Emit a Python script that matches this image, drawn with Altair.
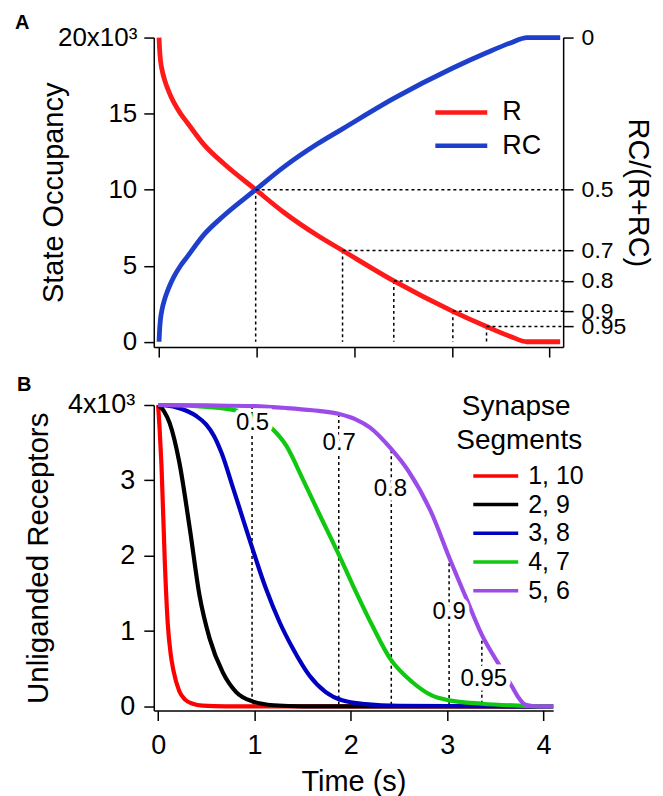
import altair as alt
import pandas as pd

FONT = "Liberation Sans"

# ---------------- Panel A data ----------------
r_t = [0, 0.005, 0.015, 0.03, 0.06, 0.10, 0.15, 0.22, 0.29, 0.46, 0.665, 0.99, 1.28, 1.62, 1.88, 2.405, 3.01, 3.355, 3.6, 3.77, 4.11]
r_v = [20000, 19300, 18500, 17900, 17150, 16450, 15750, 15000, 14400, 12960, 11700, 10000, 8500, 7000, 6000, 4000, 2000, 1000, 350, 0, 0]
rc_t = [0, 0.005, 0.015, 0.03, 0.06, 0.10, 0.15, 0.22, 0.29, 0.46, 0.665, 0.99, 1.28, 1.62, 1.88, 2.405, 3.01, 3.355, 3.6, 3.77, 4.11]
rc_v = [0, 700, 1500, 2100, 2850, 3550, 4250, 5000, 5600, 7040, 8300, 10000, 11500, 13000, 14000, 16000, 18000, 19000, 19650, 20000, 20000]
cross_t = [0.99, 1.88, 2.405, 3.01, 3.355]
cross_v = [10000, 6000, 4000, 2000, 1000]
cross_frac = [0.5, 0.7, 0.8, 0.9, 0.95]
left_ticks_A = [0, 5000, 10000, 15000, 20000]
right_ticks_A = [0, 0.5, 0.7, 0.8, 0.9, 0.95]
time_ticks = [0, 1, 2, 3, 4]
states = ["R", "RC"]
state_colors = ["#ff1a1a", "#1e3fcc"]

# ---------------- Panel B data ----------------
seg_names = ["1, 10", "2, 9", "3, 8", "4, 7", "5, 6"]
seg_colors = ["#ff0000", "#000000", "#0000c0", "#11c811", "#9b4be8"]
s1_t = [0, 0.015, 0.035, 0.07, 0.10, 0.13, 0.16, 0.22, 0.28, 0.36, 0.46, 0.7, 4.1]
s1_v = [4000, 3700, 3200, 1900, 1100, 700, 470, 200, 90, 35, 10, 0, 0]
s2_t = [0, 0.06, 0.12, 0.22, 0.33, 0.43, 0.535, 0.67, 0.81, 0.98, 1.2, 1.5, 4.1]
s2_v = [4000, 3920, 3760, 3240, 2350, 1470, 900, 455, 190, 66, 15, 0, 0]
s3_t = [0, 0.1, 0.2, 0.3, 0.4, 0.5, 0.58, 0.66, 0.78, 0.88, 0.98, 1.12, 1.26, 1.40, 1.57, 1.74, 1.91, 2.15, 2.5, 4.1]
s3_v = [4000, 3990, 3965, 3920, 3850, 3740, 3590, 3360, 2890, 2490, 2090, 1560, 1120, 765, 410, 190, 80, 30, 8, 0]
s4_t = [0, 0.4, 0.78, 1.155, 1.33, 1.5, 1.67, 1.81, 1.88, 2.02, 2.22, 2.41, 2.64, 2.84, 3.02, 3.36, 3.74, 4.1]
s4_v = [4000, 3985, 3935, 3720, 3460, 3020, 2560, 2190, 2000, 1610, 1080, 630, 320, 145, 80, 35, 10, 0]
s5_t = [0, 0.5, 1.0, 1.33, 1.6, 1.88, 2.05, 2.2, 2.41, 2.6, 2.84, 3.02, 3.19, 3.36, 3.53, 3.67, 3.75, 3.8, 3.88, 3.95, 4.1]
s5_v = [4000, 3995, 3985, 3960, 3930, 3880, 3810, 3700, 3430, 3120, 2560, 1980, 1460, 950, 570, 270, 100, 30, 5, 0, 0]
b_cross_t = [0.975, 1.875, 2.42, 3.02, 3.36]
b_cross_top = [3985, 3880, 3400, 1980, 950]
b_labels = ["0.5", "0.7", "0.8", "0.9", "0.95"]
b_label_t = [0.98, 1.88, 2.41, 3.02, 3.38]
b_label_v = [3757, 3500, 2883, 1249, 367]
left_ticks_B = [0, 1000, 2000, 3000, 4000]
legend_title_B = ["Synapse", "Segments"]

# ---------------- Panel A ----------------
dfA = pd.DataFrame({
    "t": r_t + rc_t,
    "v": r_v + rc_v,
    "state": ["R"] * len(r_t) + ["RC"] * len(rc_t),
})
vrA = pd.DataFrame({"t": cross_t, "v": cross_v})
hrA = pd.DataFrame({"t": cross_t, "f": cross_frac})
legA = pd.DataFrame({"state": states, "i": list(range(len(states)))})

WA, HA = 410, 310

def xA():
    return alt.X("t:Q", scale=alt.Scale(domain=[-0.054, 4.14], nice=False, zero=False),
                 axis=alt.Axis(values=time_ticks, labels=False, title=None))

axisYA = alt.Axis(values=left_ticks_A, title="State Occupancy", titleX=-85,
                  labelExpr="datum.value == 20000 ? '20x10³' : format(datum.value / 1000, 'd')",
                  labelFontSize=26, labelPadding=7, titleFontSize=29)

def yA():
    return alt.Y("v:Q", scale=alt.Scale(domain=[-350, 20000], nice=False, zero=False), axis=axisYA)

colorA = alt.Color("state:N", scale=alt.Scale(domain=states, range=state_colors), legend=None)

vruleA = alt.Chart(vrA).mark_rule(color="black", strokeWidth=1.5, strokeDash=[3, 3]).encode(
    x=xA(), y=yA(), y2=alt.datum(0))

linesA = alt.Chart(dfA).mark_line(strokeWidth=4.8, interpolate="monotone").encode(
    x=xA(), y=yA(), color=colorA)

legSymA = alt.Chart(legA).transform_calculate(py="75 + datum.i * 33.3").mark_rule(strokeWidth=4.5).encode(
    x=alt.value(282), x2=alt.value(334), y=alt.Y("py:Q", scale=None), color=colorA)
legTxtA = alt.Chart(legA).transform_calculate(py="75 + datum.i * 33.3").mark_text(
    font=FONT, fontSize=27, color="black", align="left", baseline="middle").encode(
    x=alt.value(349), y=alt.Y("py:Q", scale=None), text="state:N")

letterA = alt.Chart(pd.DataFrame({"label": ["A"]})).mark_text(
    font=FONT, fontSize=20, fontWeight="bold", align="left", baseline="top", color="black").encode(
    text="label:N", x=alt.value(-139), y=alt.value(-25))

hruleA = alt.Chart(hrA).mark_rule(color="black", strokeWidth=1.5, strokeDash=[3, 3]).encode(
    x=xA(), x2=alt.value(WA),
    y=alt.Y("f:Q", scale=alt.Scale(domain=[0, 1.0175], reverse=True, nice=False, zero=False),
            axis=alt.Axis(orient="right", values=right_ticks_A, title="RC/(R+RC)", titleX=59,
                          labelExpr="toString(datum.value)",
                          labelFontSize=23, labelPadding=8, titleFontSize=29)))

top = alt.layer(alt.layer(vruleA, linesA, legSymA, legTxtA, letterA), hruleA).resolve_scale(
    y="independent").properties(width=WA, height=HA)

# ---------------- Panel B ----------------
seg_t = [s1_t, s2_t, s3_t, s4_t, s5_t]
seg_v = [s1_v, s2_v, s3_v, s4_v, s5_v]
rows = []
for name, ts, vs in zip(seg_names, seg_t, seg_v):
    for t, v in zip(ts, vs):
        rows.append({"t": t, "v": v, "seg": name})
dfB = pd.DataFrame(rows)
vrB = pd.DataFrame({"t": b_cross_t, "v": b_cross_top})
lbB = pd.DataFrame({"t": b_label_t, "v": b_label_v, "label": b_labels})
legB = pd.DataFrame({"seg": seg_names, "i": list(range(len(seg_names)))})
legTitleB = pd.DataFrame({"label": legend_title_B, "i": list(range(len(legend_title_B)))})

WB, HB = 400, 306

def xB():
    return alt.X("t:Q", scale=alt.Scale(domain=[-0.045, 4.10], nice=False, zero=False),
                 axis=alt.Axis(values=time_ticks, title="Time (s)", labelFontSize=27,
                               labelPadding=12, titleFontSize=29, titlePadding=9))

axisYB = alt.Axis(values=left_ticks_B, title="Unliganded Receptors", titleX=-100,
                  labelExpr="datum.value == 4000 ? '4x10³' : format(datum.value / 1000, 'd')",
                  labelFontSize=27, labelPadding=9, titleFontSize=29.5)

def yB():
    return alt.Y("v:Q", scale=alt.Scale(domain=[-55, 4000], nice=False, zero=False), axis=axisYB)

colorB = alt.Color("seg:N", scale=alt.Scale(domain=seg_names, range=seg_colors), legend=None)

vruleB = alt.Chart(vrB).mark_rule(color="black", strokeWidth=1.5, strokeDash=[3, 3]).encode(
    x=xB(), y=yB(), y2=alt.datum(0))

linesB = alt.Chart(dfB).mark_line(strokeWidth=4.2, interpolate="monotone").encode(
    x=xB(), y=yB(), color=colorB)

haloB = alt.Chart(lbB).mark_text(font=FONT, fontSize=24, color="white", stroke="white",
                                 strokeWidth=9).encode(x=xB(), y=yB(), text="label:N")
textB = alt.Chart(lbB).mark_text(font=FONT, fontSize=24, color="black").encode(
    x=xB(), y=yB(), text="label:N")

legSymB = alt.Chart(legB).transform_calculate(py="71 + datum.i * 28.75").mark_rule(strokeWidth=3.5).encode(
    x=alt.value(320), x2=alt.value(365), y=alt.Y("py:Q", scale=None), color=colorB)
legTxtB = alt.Chart(legB).transform_calculate(py="71 + datum.i * 28.75").mark_text(
    font=FONT, fontSize=25, color="black", align="left", baseline="middle").encode(
    x=alt.value(375), y=alt.Y("py:Q", scale=None), text="seg:N")

legTitle = alt.Chart(legTitleB).transform_calculate(
    py="2 + datum.i * 34", px="363 + datum.i * 3").mark_text(
    font=FONT, fontSize=28, color="black", align="center", baseline="middle").encode(
    text="label:N", x=alt.X("px:Q", scale=None), y=alt.Y("py:Q", scale=None))

letterB = alt.Chart(pd.DataFrame({"label": ["B"]})).mark_text(
    font=FONT, fontSize=20, fontWeight="bold", align="left", baseline="top", color="black").encode(
    text="label:N", x=alt.value(-137), y=alt.value(-30))

bottom = alt.layer(vruleB, linesB, haloB, textB, legSymB, legTxtB, legTitle, letterB).properties(
    width=WB, height=HB)

chart = alt.vconcat(top, bottom, spacing=58, bounds="flush").resolve_scale(
    color="independent").properties(
    padding={"left": 7, "top": 4, "right": 4, "bottom": 0}
).configure_view(stroke=None).configure_axis(
    domainColor="black", domainWidth=1.5, tickColor="black", tickWidth=1.5, tickSize=10,
    grid=False, labelFont=FONT, titleFont=FONT, labelColor="black", titleColor="black",
    titleFontWeight="normal", labelFlush=False, labelOverlap=False
)

chart.save("out.html", embed_options={"renderer": "svg", "actions": False})
